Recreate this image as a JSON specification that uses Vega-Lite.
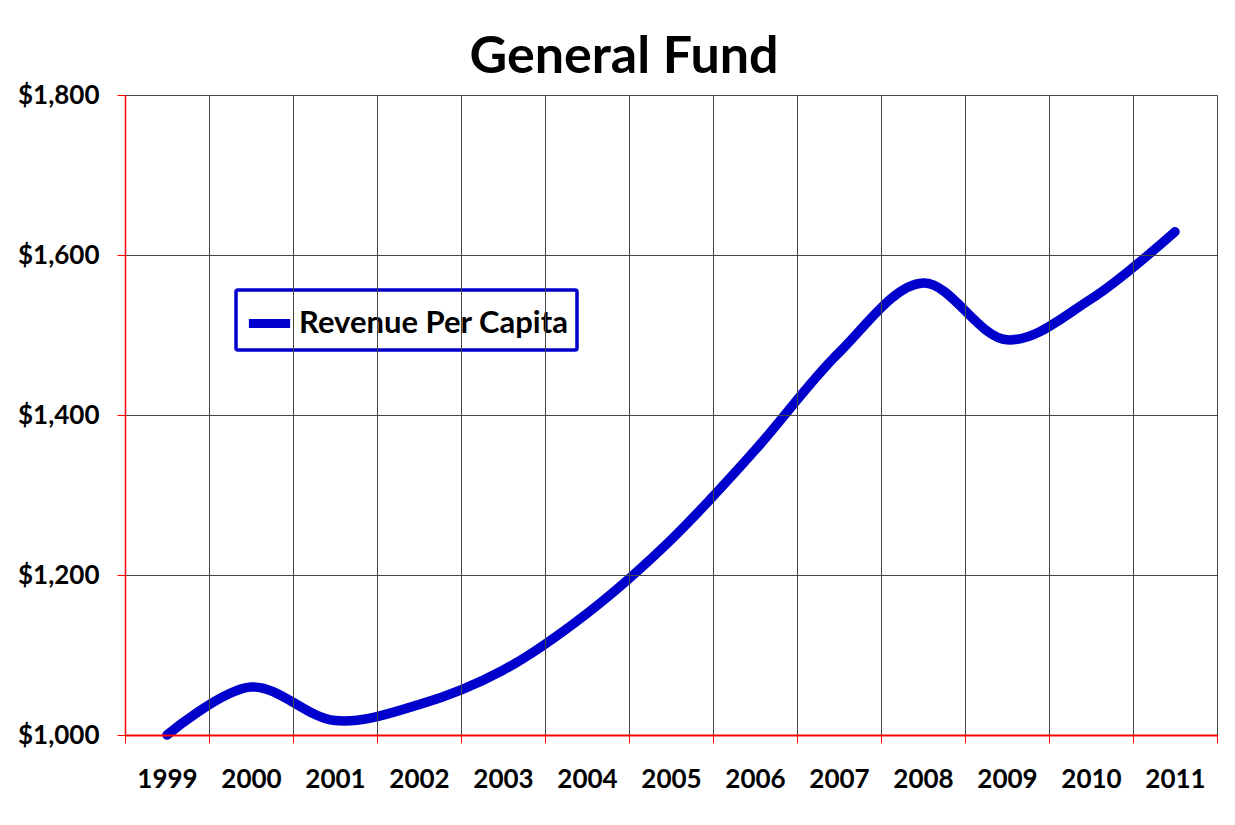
{
  "$schema": "https://vega.github.io/schema/vega-lite/v6.json",
  "autosize": "none",
  "width": 1092,
  "height": 640,
  "padding": {"left": 125, "top": 95, "right": 18, "bottom": 90},
  "background": "white",
  "title": {
    "text": "General Fund",
    "font": "Lato",
    "fontSize": 52,
    "fontWeight": "bold",
    "color": "black",
    "anchor": "middle",
    "frame": "group",
    "dx": -47,
    "dy": 65,
    "baseline": "alphabetic",
    "offset": 22
  },
  "data": {
    "values": [
      {"year": "1999", "value": 1000, "series": "Revenue Per Capita"},
      {"year": "2000", "value": 1060, "series": "Revenue Per Capita"},
      {"year": "2001", "value": 1018, "series": "Revenue Per Capita"},
      {"year": "2002", "value": 1038, "series": "Revenue Per Capita"},
      {"year": "2003", "value": 1081, "series": "Revenue Per Capita"},
      {"year": "2004", "value": 1152, "series": "Revenue Per Capita"},
      {"year": "2005", "value": 1244, "series": "Revenue Per Capita"},
      {"year": "2006", "value": 1356, "series": "Revenue Per Capita"},
      {"year": "2007", "value": 1478, "series": "Revenue Per Capita"},
      {"year": "2008", "value": 1565, "series": "Revenue Per Capita"},
      {"year": "2009", "value": 1494, "series": "Revenue Per Capita"},
      {"year": "2010", "value": 1545, "series": "Revenue Per Capita"},
      {"year": "2011", "value": 1629, "series": "Revenue Per Capita"}
    ]
  },
  "mark": {"type": "line", "strokeWidth": 9.5, "strokeCap": "round", "interpolate": "catmull-rom"},
  "encoding": {
    "x": {
      "field": "year",
      "type": "ordinal",
      "scale": {"type": "band", "paddingInner": 0, "paddingOuter": 0},
      "axis": {
        "title": null,
        "labelAngle": 0,
        "tickBand": "extent",
        "grid": true,
        "gridColor": "#444444",
        "gridWidth": 1,
        "gridOpacity": 1,
        "domainColor": "#ff0000",
        "domainWidth": 2,
        "tickColor": "#ff0000",
        "tickSize": 8,
        "tickWidth": 1,
        "labelFont": "Lato",
        "labelFontSize": 26,
        "labelFontWeight": "bold",
        "labelColor": "black",
        "labelPadding": 23,
        "zindex": 1
      }
    },
    "y": {
      "field": "value",
      "type": "quantitative",
      "scale": {"domain": [1000, 1800], "nice": false, "zero": false},
      "axis": {
        "title": null,
        "values": [1000, 1200, 1400, 1600, 1800],
        "format": "$,.0f",
        "grid": true,
        "gridColor": {"condition": {"test": "datum.value === 1000", "value": "#ff0000"}, "value": "#444444"},
        "gridWidth": 1,
        "gridOpacity": 1,
        "domainColor": "#ff0000",
        "domainWidth": 1.5,
        "tickColor": "#ff0000",
        "tickSize": 8,
        "tickWidth": 1,
        "labelFont": "Lato",
        "labelFontSize": 26,
        "labelFontWeight": "bold",
        "labelColor": "black",
        "labelPadding": 18,
        "zindex": 2
      }
    },
    "color": {
      "field": "series",
      "type": "nominal",
      "scale": {"range": ["#0000cc"]},
      "legend": {
        "title": null,
        "orient": "none",
        "legendX": 111,
        "legendY": 195,
        "strokeColor": "#0000cc",
        "cornerRadius": 2,
        "fillColor": "white",
        "padding": 8,
        "symbolType": "stroke",
        "symbolStrokeWidth": 9,
        "symbolSize": 1700,
        "symbolStrokeColor": "#0000cc",
        "labelFont": "Lato",
        "labelFontSize": 31,
        "labelFontWeight": "bold",
        "labelColor": "black",
        "labelOffset": 4,
        "labelLimit": 500
      }
    }
  },
  "config": {
    "view": {"stroke": null},
    "legend": {"strokeWidth": 3.5}
  }
}
